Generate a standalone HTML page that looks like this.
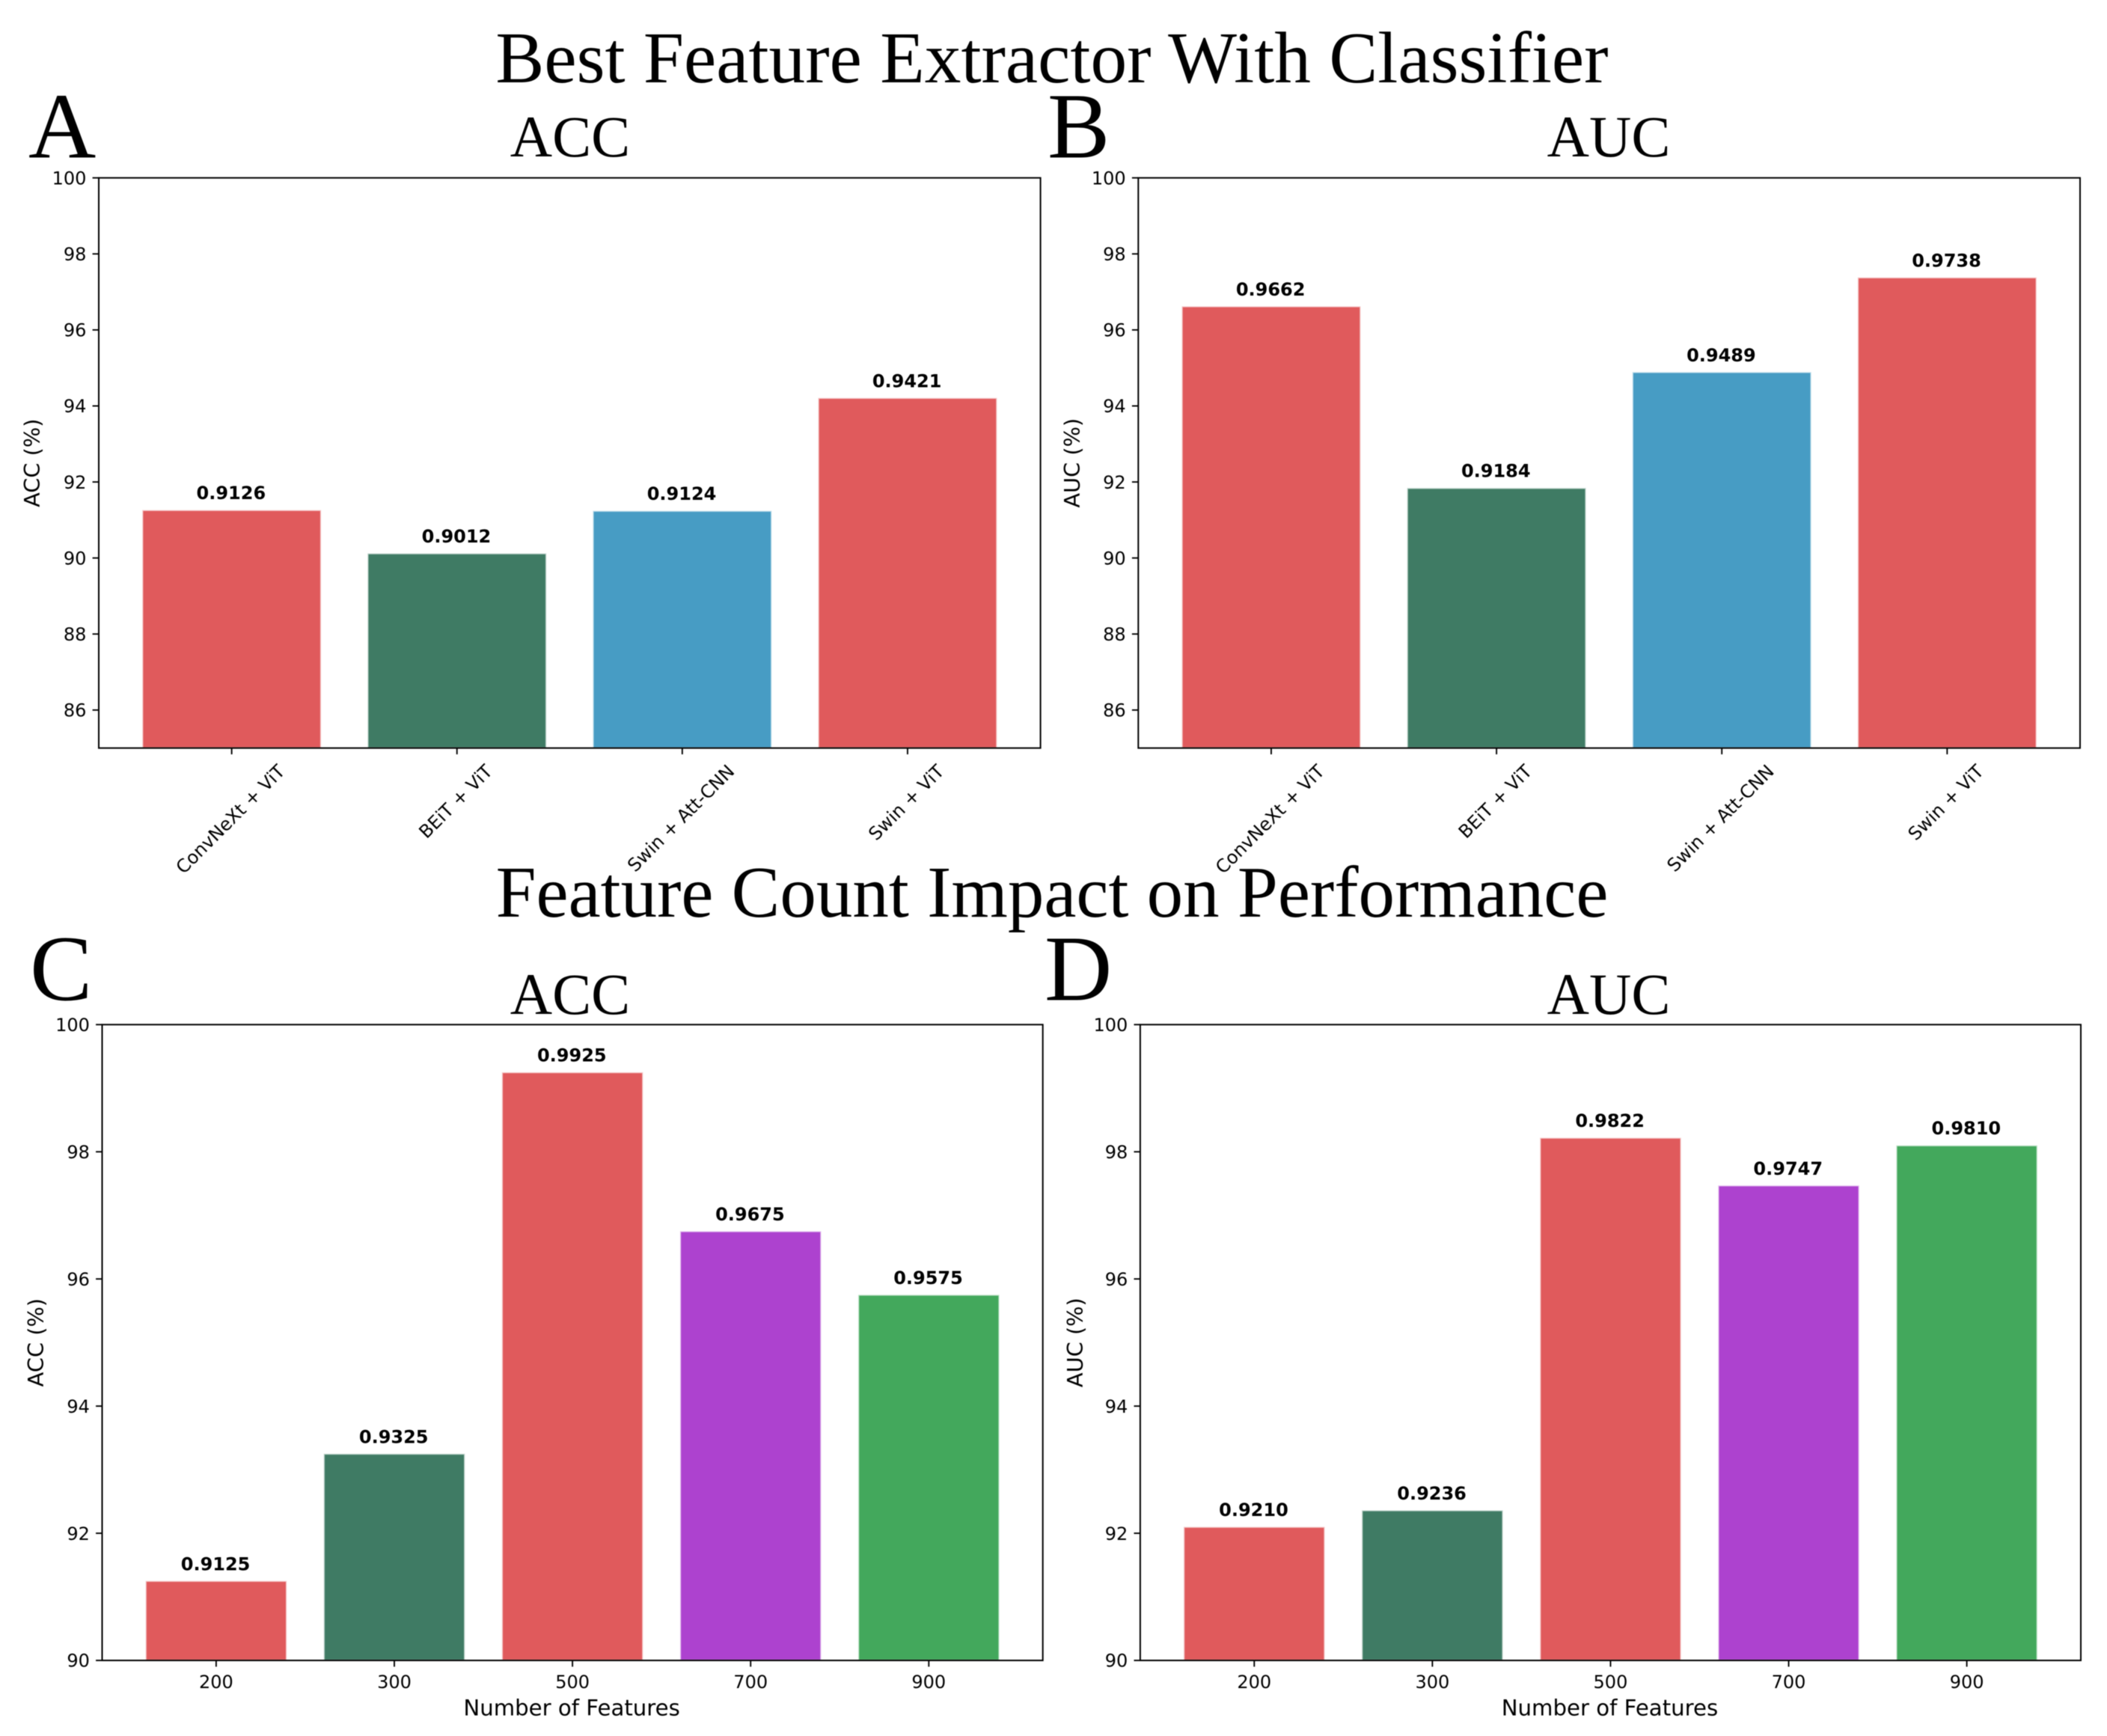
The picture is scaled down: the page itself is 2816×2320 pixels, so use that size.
<!DOCTYPE html>
<html lang="en">
<head>
<meta charset="utf-8">
<title>Best Feature Extractor With Classifier</title>
<style>
html,body{margin:0;padding:0;background:#fff;}
body{width:2816px;height:2320px;overflow:hidden;}
svg{display:block;filter:blur(0.5px);}
.serif{font-family:"Liberation Serif",serif;fill:#000;}
.sans{font-family:"DejaVu Sans",sans-serif;fill:#000;}
</style>
</head>
<body>
<svg id="figure" xmlns="http://www.w3.org/2000/svg" width="2816" height="2320" viewBox="0 0 2816 2320">
  <rect width="2816" height="2320" fill="#ffffff"/>
  <text class="serif" x="1406" y="110" font-size="97.4" text-anchor="middle">Best Feature Extractor With Classifier</text>
  <text class="serif" x="1406" y="1225" font-size="97" text-anchor="middle">Feature Count Impact on Performance</text>
</svg>
<script>
const extractorCategories = ["ConvNeXt + ViT", "BEiT + ViT", "Swin + Att-CNN", "Swin + ViT"];
const extractorAccValues = [0.9126, 0.9012, 0.9124, 0.9421];
const extractorAucValues = [0.9662, 0.9184, 0.9489, 0.9738];
const featureCategories = ["200", "300", "500", "700", "900"];
const featureAccValues = [0.9125, 0.9325, 0.9925, 0.9675, 0.9575];
const featureAucValues = [0.9210, 0.9236, 0.9822, 0.9747, 0.9810];
const extractorYTicks = [86, 88, 90, 92, 94, 96, 98, 100];
const featureYTicks = [90, 92, 94, 96, 98, 100];
const extractorColors = ["#E05A5C", "#3F7B64", "#479CC4", "#E05A5C"];
const featureColors = ["#E05A5C", "#3F7B64", "#E05A5C", "#AD42CF", "#43A85C"];

const NS = "http://www.w3.org/2000/svg";
const svg = document.getElementById("figure");

function make(parent, tag, attrs) {
  const el = document.createElementNS(NS, tag);
  for (const k in attrs) el.setAttribute(k, attrs[k]);
  parent.appendChild(el);
  return el;
}
function label(parent, cls, str, x, y, size, anchor, weight) {
  const el = make(parent, "text", {class: cls, x: x, y: y, "font-size": size, "text-anchor": anchor, "font-weight": weight || "normal"});
  el.textContent = str;
  return el;
}

function drawPanel(p) {
  const g = make(svg, "g", {});
  
  

  const n = p.categories.length;
  const barW = 0.8;
  const span = (n - 1) + barW;
  const pad = span * 0.05;
  const step = (p.right - p.left) / (span + 2 * pad);
  const xAxis = i => p.left + (i + barW / 2 + pad) * step;
  const yAxis = v => p.bottom - (v - p.yMin) / (p.yMax - p.yMin) * (p.bottom - p.top);
  const tickLen = 8.4;

  // bars
  p.values.forEach((v, i) => {
    const pct = v * 100;
    const bar = make(g, "rect", {
      x: xAxis(i) - barW * step / 2 + 1,
      y: yAxis(pct),
      width: barW * step - 2,
      height: p.bottom - yAxis(pct),
      fill: p.colors[i],
      stroke: "rgba(255,255,255,0.65)",
      "stroke-width": 2.4
    });
    
    
    const val = label(g, "sans", v.toFixed(4), xAxis(i) - 0.8, yAxis(pct) - 14.5, 24, "middle", "bold");
    
    
  });

  // y ticks
  p.yTicks.forEach(t => {
    const tick = make(g, "line", {x1: p.left - tickLen, x2: p.left, y1: yAxis(t), y2: yAxis(t), stroke: "#000", "stroke-width": 1.9});
    
    
    const tl = label(g, "sans", String(t), p.left - 16.6, yAxis(t) + 8.7, 24, "end");
    
    
  });

  // x ticks
  p.categories.forEach((c, i) => {
    const tick = make(g, "line", {x1: xAxis(i), x2: xAxis(i), y1: p.bottom, y2: p.bottom + tickLen, stroke: "#000", "stroke-width": 1.9});
    
    
    if (p.rotate) {
      const lx = xAxis(i) - 2;
      const tl = label(g, "sans", c, lx, 0, 24.2, "middle");
      
      
      const w = tl.getComputedTextLength();
      const cy = p.bottom + 18 + (w + 24) * Math.SQRT1_2 / 2;
      tl.setAttribute("y", cy + 8.7);
      tl.setAttribute("transform", "rotate(-45 " + lx + " " + cy + ")");
    } else {
      const tl = label(g, "sans", c, xAxis(i), p.bottom + 37, 24, "middle");
      
      
    }
  });

  // frame
  const frame = make(g, "rect", {x: p.left, y: p.top, width: p.right - p.left, height: p.bottom - p.top, fill: "none", stroke: "#000", "stroke-width": 2});
  
  

  // titles
  const title = label(g, "serif", p.title, p.titleX, p.titleY, 78, "middle");
  
  

  const letter = label(g, "serif", p.letter, p.letterX, p.letterY, 125, "start");
  
  

  const midY = (p.top + p.bottom) / 2;
  const yTitle = label(g, "sans", p.yLabel, p.yLabelX, midY, 28.8, "middle");
  yTitle.setAttribute("transform", "rotate(-90 " + p.yLabelX + " " + midY + ")");
  
  

  if (p.xLabel) {
    const xTitle = label(g, "sans", p.xLabel, (p.left + p.right) / 2 - 1, p.bottom + 73.7, 29.2, "middle");
    
    
  }
}

drawPanel({name: "panel-a-acc", letter: "A", letterX: 38, letterY: 210.7, title: "ACC", titleX: 762, titleY: 209,
  categories: extractorCategories, values: extractorAccValues, colors: extractorColors, yTicks: extractorYTicks,
  yMin: 85, yMax: 100, left: 132, right: 1390.6, top: 237.7, bottom: 999.7, yLabel: "ACC (%)", yLabelX: 53, rotate: true});
drawPanel({name: "panel-b-auc", letter: "B", letterX: 1400, letterY: 210.7, title: "AUC", titleX: 2150, titleY: 209,
  categories: extractorCategories, values: extractorAucValues, colors: extractorColors, yTicks: extractorYTicks,
  yMin: 85, yMax: 100, left: 1521.3, right: 2780, top: 237.7, bottom: 999.7, yLabel: "AUC (%)", yLabelX: 1443, rotate: true});
drawPanel({name: "panel-c-acc", letter: "C", letterX: 40, letterY: 1336.5, title: "ACC", titleX: 762, titleY: 1355,
  categories: featureCategories, values: featureAccValues, colors: featureColors, yTicks: featureYTicks,
  yMin: 90, yMax: 100, left: 136.5, right: 1393.7, top: 1369.3, bottom: 2219, yLabel: "ACC (%)", yLabelX: 58, xLabel: "Number of Features"});
drawPanel({name: "panel-d-auc", letter: "D", letterX: 1396, letterY: 1336.5, title: "AUC", titleX: 2150, titleY: 1355,
  categories: featureCategories, values: featureAucValues, colors: featureColors, yTicks: featureYTicks,
  yMin: 90, yMax: 100, left: 1523.9, right: 2781, top: 1369.3, bottom: 2219, yLabel: "AUC (%)", yLabelX: 1447, xLabel: "Number of Features"});
</script>
</body>
</html>
